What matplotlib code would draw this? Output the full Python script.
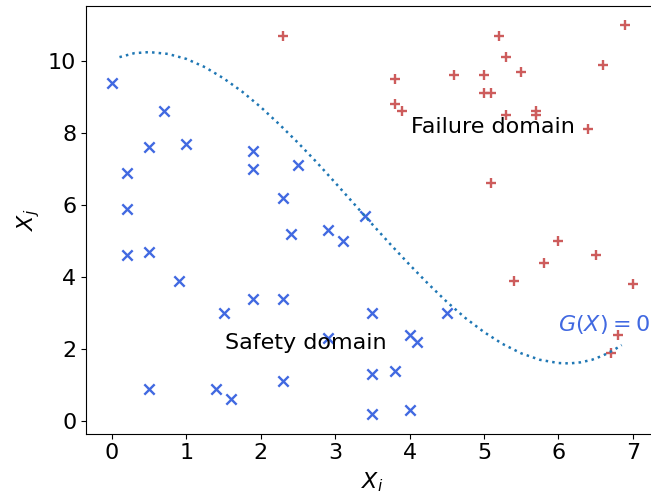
import matplotlib
matplotlib.use("Agg")
import matplotlib.pyplot as plt

# safe samples (blue x)
safe_x = [0.0, 0.2, 0.2, 0.2, 0.5, 0.5, 0.5, 0.7, 0.9, 1.0, 1.4, 1.5, 1.6, 1.9, 1.9,
          1.9, 2.3, 2.3, 2.3, 2.4, 2.5, 2.9, 2.9, 3.1, 3.4, 3.5, 3.5, 3.5, 3.8, 4.0,
          4.1, 4.0, 4.5]
safe_y = [9.4, 6.9, 5.9, 4.6, 7.6, 4.7, 0.9, 8.6, 3.9, 7.7, 0.9, 3.0, 0.6, 7.5, 7.0,
          3.4, 6.2, 3.4, 1.1, 5.2, 7.1, 5.3, 2.3, 5.0, 5.7, 3.0, 1.3, 0.2, 1.4, 2.4,
          2.2, 0.3, 3.0]

# failure samples (red +)
fail_x = [2.3, 3.8, 3.8, 3.9, 4.6, 5.0, 5.0, 5.1, 5.2, 5.3, 5.5, 5.3, 5.7, 5.7, 6.4,
          6.6, 6.9, 5.1, 6.0, 5.8, 5.4, 6.5, 7.0, 6.8, 6.7]
fail_y = [10.7, 9.5, 8.8, 8.6, 9.6, 9.6, 9.1, 9.1, 10.7, 10.1, 9.7, 8.5, 8.6, 8.5, 8.1,
          9.9, 11.0, 6.6, 5.0, 4.4, 3.9, 4.6, 3.8, 2.4, 1.9]

# limit state curve G(X)=0
curve_x = [0.1, 0.3, 0.5, 0.75, 1.0, 1.25, 1.5, 1.75, 2.0, 2.25, 2.5, 2.75, 3.0, 3.25,
           3.5, 3.75, 4.0, 4.25, 4.5, 4.75, 5.0, 5.25, 5.5, 5.75, 6.0, 6.15, 6.3,
           6.45, 6.6, 6.75, 6.85]
curve_y = [10.11, 10.22, 10.25, 10.2, 10.06, 9.83, 9.52, 9.15, 8.72, 8.24, 7.73, 7.19,
           6.62, 6.04, 5.46, 4.89, 4.34, 3.81, 3.31, 2.86, 2.47, 2.14, 1.88, 1.7,
           1.61, 1.6, 1.63, 1.7, 1.82, 1.98, 2.11]

plt.rcParams.update({"font.size": 16})
fig = plt.figure(figsize=(6.51, 4.97), dpi=100)
ax = fig.add_axes([0.1321, 0.1276, 0.880, 0.861])

ax.plot(curve_x, curve_y, ls=":", color="tab:blue", lw=1.8)
ax.scatter(safe_x, safe_y, marker="x", color="royalblue", s=55, lw=1.7)
ax.scatter(fail_x, fail_y, marker="+", color="indianred", s=50, lw=1.7)

ax.text(4.02, 8.17, "Failure domain", fontsize=16, va="center")
ax.text(1.52, 2.17, "Safety domain", fontsize=16, va="center")
ax.text(5.99, 2.67, r"$G(X)=0$", fontsize=16, va="center", color="royalblue",
        clip_on=False)

ax.set_xlim(-0.35, 7.35)
ax.set_ylim(-0.35, 11.54)
ax.set_xticks(range(0, 8))
ax.set_yticks(range(0, 11, 2))
ax.set_xlabel(r"$X_i$", labelpad=5)
ax.set_ylabel(r"$X_j$")
ax.spines["right"].set_visible(False)

fig.savefig("out.png", dpi=100)
